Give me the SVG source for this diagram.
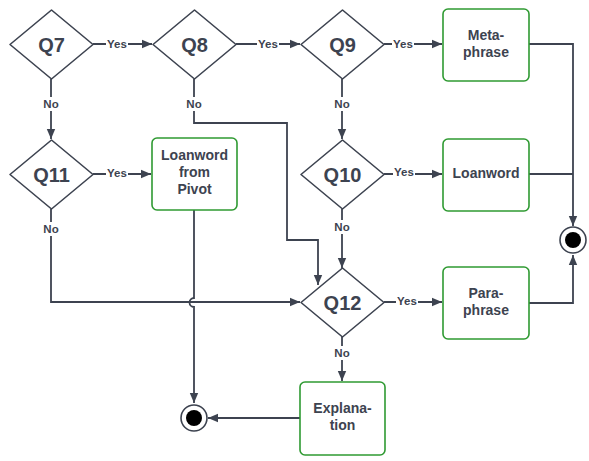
<svg xmlns="http://www.w3.org/2000/svg" width="589" height="461" viewBox="0 0 589 461">
  <style>
    .dec { fill: #ffffff; stroke: #3d4350; stroke-width: 1.6; stroke-linejoin: round; }
    .box { fill: #ffffff; stroke: #2f9a32; stroke-width: 1.6; }
    .wire { fill: none; stroke: #3d4350; stroke-width: 1.8; }
    .qt { font-family: "Liberation Sans", Arial, sans-serif; font-weight: bold; font-size: 20px; fill: #3d4350; text-anchor: middle; }
    .bt { font-family: "Liberation Sans", Arial, sans-serif; font-weight: bold; font-size: 14px; fill: #3d4350; text-anchor: middle; }
    .lt { font-family: "Liberation Sans", Arial, sans-serif; font-weight: bold; font-size: 11.5px; fill: #3d4350; text-anchor: middle; }
    .lbg { fill: #ffffff; }
  </style>
  <defs>
    <marker id="arr" viewBox="0 0 10 10" refX="10" refY="5" markerWidth="10" markerHeight="10" markerUnits="userSpaceOnUse" orient="auto">
      <path d="M0 0.8 L10 5 L0 9.2 Z" fill="#3d4350"/>
    </marker>
  </defs>

  <rect width="589" height="461" fill="#ffffff"/>

  <!-- connectors -->
  <g id="connectors">
    <!-- yes branches -->
    <path class="wire" d="M93 44 H152" marker-end="url(#arr)"/>
    <path class="wire" d="M236 44 H300" marker-end="url(#arr)"/>
    <path class="wire" d="M384 44 H442" marker-end="url(#arr)"/>
    <path class="wire" d="M93 174 H151" marker-end="url(#arr)"/>
    <path class="wire" d="M384 174 H442" marker-end="url(#arr)"/>
    <path class="wire" d="M384 302 H442" marker-end="url(#arr)"/>
    <!-- no branches -->
    <path class="wire" d="M51 79 V139" marker-end="url(#arr)"/>
    <path class="wire" d="M342 79 V139" marker-end="url(#arr)"/>
    <path class="wire" d="M342 209 V268" marker-end="url(#arr)"/>
    <path class="wire" d="M342 336 V381" marker-end="url(#arr)"/>
    <path class="wire" d="M194 79 V123 H287 V240 H318 V285" marker-end="url(#arr)"/>
    <path class="wire" d="M51 209 V302 H300" marker-end="url(#arr)"/>
    <!-- outcomes to end states -->
    <path class="wire" d="M529 44 H573 V226" marker-end="url(#arr)"/>
    <path class="wire" d="M529 174 H573"/>
    <path class="wire" d="M529 303 H573 V255" marker-end="url(#arr)"/>
    <path class="wire" d="M194 210 V298 A4.5 4.5 0 0 0 194 307 V403" marker-end="url(#arr)"/>
    <path class="wire" d="M300 418 H208" marker-end="url(#arr)"/>

    <!-- connector labels -->
    <rect class="lbg" x="106" y="37" width="22" height="13"/>
    <text class="lt" x="117" y="48">Yes</text>
    <rect class="lbg" x="257" y="37" width="22" height="13"/>
    <text class="lt" x="268" y="48">Yes</text>
    <rect class="lbg" x="392" y="37" width="22" height="13"/>
    <text class="lt" x="403" y="48">Yes</text>
    <rect class="lbg" x="106" y="167" width="22" height="13"/>
    <text class="lt" x="117" y="177">Yes</text>
    <rect class="lbg" x="393" y="166" width="22" height="13"/>
    <text class="lt" x="404" y="176">Yes</text>
    <rect class="lbg" x="396" y="295" width="22" height="13"/>
    <text class="lt" x="407" y="305">Yes</text>

    <rect class="lbg" x="43" y="97" width="16" height="14"/>
    <text class="lt" x="51" y="108">No</text>
    <rect class="lbg" x="186" y="97" width="16" height="14"/>
    <text class="lt" x="194" y="108">No</text>
    <rect class="lbg" x="334" y="97" width="16" height="14"/>
    <text class="lt" x="342" y="108">No</text>
    <rect class="lbg" x="43" y="222" width="16" height="14"/>
    <text class="lt" x="51" y="233">No</text>
    <rect class="lbg" x="334" y="220" width="16" height="14"/>
    <text class="lt" x="342" y="231">No</text>
    <rect class="lbg" x="334" y="346" width="16" height="14"/>
    <text class="lt" x="342" y="357">No</text>
  </g>

  <!-- decisions -->
  <g id="q7">
    <path class="dec" d="M51.5 10 L93 44.5 L51.5 79 L10 44.5 Z"/>
    <text class="qt" x="51.5" y="51.5">Q7</text>
  </g>
  <g id="q8">
    <path class="dec" d="M194.5 10 L236 44.5 L194.5 79 L153 44.5 Z"/>
    <text class="qt" x="194.5" y="51.5">Q8</text>
  </g>
  <g id="q9">
    <path class="dec" d="M342.5 10 L384 44.5 L342.5 79 L301 44.5 Z"/>
    <text class="qt" x="342.5" y="51.5">Q9</text>
  </g>
  <g id="q11">
    <path class="dec" d="M51.5 140 L93 174.5 L51.5 209 L10 174.5 Z"/>
    <text class="qt" x="51.5" y="181.5">Q11</text>
  </g>
  <g id="q10">
    <path class="dec" d="M342.5 140 L384 174.5 L342.5 209 L301 174.5 Z"/>
    <text class="qt" x="342.5" y="181.5">Q10</text>
  </g>
  <g id="q12">
    <path class="dec" d="M342.5 268 L384 302.5 L342.5 337 L301 302.5 Z"/>
    <text class="qt" x="342.5" y="309.5">Q12</text>
  </g>

  <!-- outcomes -->
  <g id="metaphrase">
    <rect class="box" x="443" y="9" width="86" height="72" rx="5"/>
    <text class="bt" x="486" y="40">Meta-</text>
    <text class="bt" x="486" y="57">phrase</text>
  </g>
  <g id="loanword-pivot">
    <rect class="box" x="152" y="138" width="85" height="72" rx="5"/>
    <text class="bt" x="194.5" y="160">Loanword</text>
    <text class="bt" x="194.5" y="177">from</text>
    <text class="bt" x="194.5" y="194">Pivot</text>
  </g>
  <g id="loanword">
    <rect class="box" x="443" y="139" width="86" height="72" rx="5"/>
    <text class="bt" x="486" y="178">Loanword</text>
  </g>
  <g id="paraphrase">
    <rect class="box" x="443" y="267" width="86" height="72" rx="5"/>
    <text class="bt" x="486" y="298">Para-</text>
    <text class="bt" x="486" y="315">phrase</text>
  </g>
  <g id="explanation">
    <rect class="box" x="300" y="382" width="85" height="73" rx="5"/>
    <text class="bt" x="342.5" y="413">Explana-</text>
    <text class="bt" x="342.5" y="430">tion</text>
  </g>

  <!-- end states -->
  <g id="end-right">
    <circle cx="573" cy="240" r="13" fill="#ffffff" stroke="#3d4350" stroke-width="1.6"/>
    <circle cx="573" cy="240" r="8" fill="#000000"/>
  </g>
  <g id="end-left">
    <circle cx="194" cy="418" r="13" fill="#ffffff" stroke="#3d4350" stroke-width="1.6"/>
    <circle cx="194" cy="418" r="8" fill="#000000"/>
  </g>
</svg>
